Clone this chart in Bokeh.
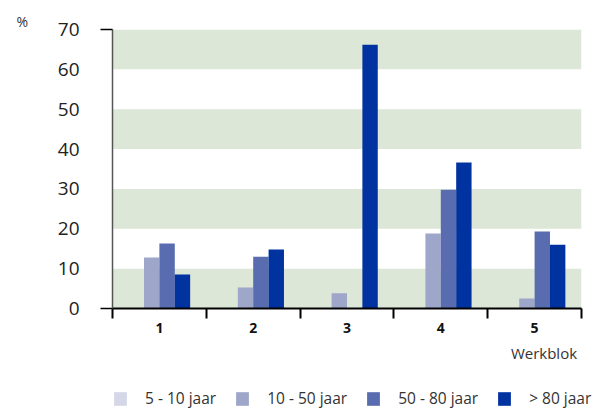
from bokeh.plotting import figure
from bokeh.models import (ColumnDataSource, Range1d, FixedTicker, Title, Legend, LegendItem,
                          LinearAxis, BoxAnnotation)
from bokeh.layouts import column
from bokeh.transform import dodge
from bokeh.embed import file_html
from bokeh.resources import INLINE

werkblok = [1, 2, 3, 4, 5]
series_names = ["5 - 10 jaar", "10 - 50 jaar", "50 - 80 jaar", "> 80 jaar"]
v_5_10 = [0, 0, 0, 0, 0]
v_10_50 = [12.8, 5.3, 3.8, 18.8, 2.5]
v_50_80 = [16.3, 13.0, 0, 29.8, 19.3]
v_80 = [8.5, 14.8, 66.2, 36.6, 16.0]
y_ticks = [0, 10, 20, 30, 40, 50, 60, 70]

colors = ["#d4d7e7", "#9ea6c9", "#586caf", "#0033a0"]
FONT = "Open Sans"
keys = ["s0", "s1", "s2", "s3"]

src = ColumnDataSource(dict(
    x=[w - 0.5 for w in werkblok],
    s0=v_5_10, s1=v_10_50, s2=v_50_80, s3=v_80,
))

p = figure(width=592, height=368, x_range=Range1d(0, 5), y_range=Range1d(0, 70),
           output_backend="svg", toolbar_location=None,
           min_border_left=112, min_border_top=29, min_border_right=11, min_border_bottom=60)
p.frame_align = False
p.outline_line_color = None
p.background_fill_color = "white"
p.title = Title(text="%", align="left", offset=-96, standoff=-3, text_font=FONT,
                text_font_size="14px", text_color="#333333", text_font_style="normal")

# grid bands (every other interval between the y ticks)
p.xgrid.grid_line_color = None
p.ygrid.grid_line_color = None
for i in range(0, len(y_ticks) - 1, 2):
    p.add_layout(BoxAnnotation(bottom=y_ticks[i], top=y_ticks[i + 1], fill_color="#dde7d7",
                               fill_alpha=1.0, line_color=None, level="underlay"))

w = 0.164
offsets = [-1.5 * w, -0.5 * w, 0.5 * w, 1.5 * w]
for i, key in enumerate(keys):
    p.vbar(x=dodge("x", offsets[i], range=p.x_range), top=key, width=w, source=src,
           fill_color=colors[i], line_color=None)

# x axis
xa = p.xaxis[0]
xa.ticker = FixedTicker(ticks=[w - 0.5 for w in werkblok], minor_ticks=[0, 1, 2, 3, 4, 5])
xa.major_label_overrides = {w - 0.5: str(w) for w in werkblok}
xa.major_tick_out = 0
xa.major_tick_in = 0
xa.minor_tick_out = 10
xa.minor_tick_in = 0
xa.minor_tick_line_color = "black"
xa.minor_tick_line_width = 2
xa.axis_line_color = "black"
xa.axis_line_width = 2
xa.major_label_standoff = 4
xa.major_label_text_font = FONT
xa.major_label_text_font_style = "bold"
xa.major_label_text_font_size = "14px"
xa.major_label_text_color = "#111111"

# "Werkblok" label as a second, line-less axis
ax2 = LinearAxis(ticker=FixedTicker(ticks=[4.6]), major_label_overrides={4.6: "Werkblok"},
                 axis_line_color=None, major_tick_line_color=None, minor_tick_line_color=None,
                 major_tick_out=0, major_tick_in=0, major_label_standoff=7,
                 major_label_text_font=FONT, major_label_text_font_size="15px",
                 major_label_text_color="#333333")
p.add_layout(ax2, "below")

# y axis
ya = p.yaxis[0]
ya.ticker = FixedTicker(ticks=y_ticks, minor_ticks=[0, 70])
ya.major_tick_out = 0
ya.major_tick_in = 0
ya.minor_tick_out = 12
ya.minor_tick_in = 0
ya.minor_tick_line_color = "black"
ya.minor_tick_line_width = 1.5
ya.axis_line_color = "#555555"
ya.axis_line_width = 1.5
ya.major_label_standoff = 21
ya.major_label_text_font = FONT
ya.major_label_text_font_size = "19px"
ya.major_label_text_color = "#222222"

# legend strip (its bars lie outside its visible range; only the legend shows)
p2 = figure(width=600, height=41, x_range=Range1d(0, 5), y_range=Range1d(1000, 1001),
            output_backend="svg", toolbar_location=None, x_axis_type=None, y_axis_type=None,
            min_border_left=0, min_border_right=0, min_border_top=0, min_border_bottom=0)
p2.frame_align = False
p2.outline_line_color = None
p2.xgrid.grid_line_color = None
p2.ygrid.grid_line_color = None
leg_renderers = [p2.vbar(x="x", top=k, width=w, source=src, fill_color=c, line_color=None)
                 for k, c in zip(keys, colors)]
legend = Legend(items=[LegendItem(label=n, renderers=[r]) for n, r in zip(series_names, leg_renderers)],
                orientation="horizontal", location=(112, 0),
                glyph_width=16, glyph_height=17, label_standoff=17, spacing=18,
                label_text_font=FONT, label_text_font_size="15.5px", label_text_color="#333333",
                border_line_color=None, background_fill_alpha=0, padding=0, margin=0)
p2.add_layout(legend, "center")

layout = column(p, p2, spacing=0)
open("out.html", "w").write(file_html(layout, INLINE))
